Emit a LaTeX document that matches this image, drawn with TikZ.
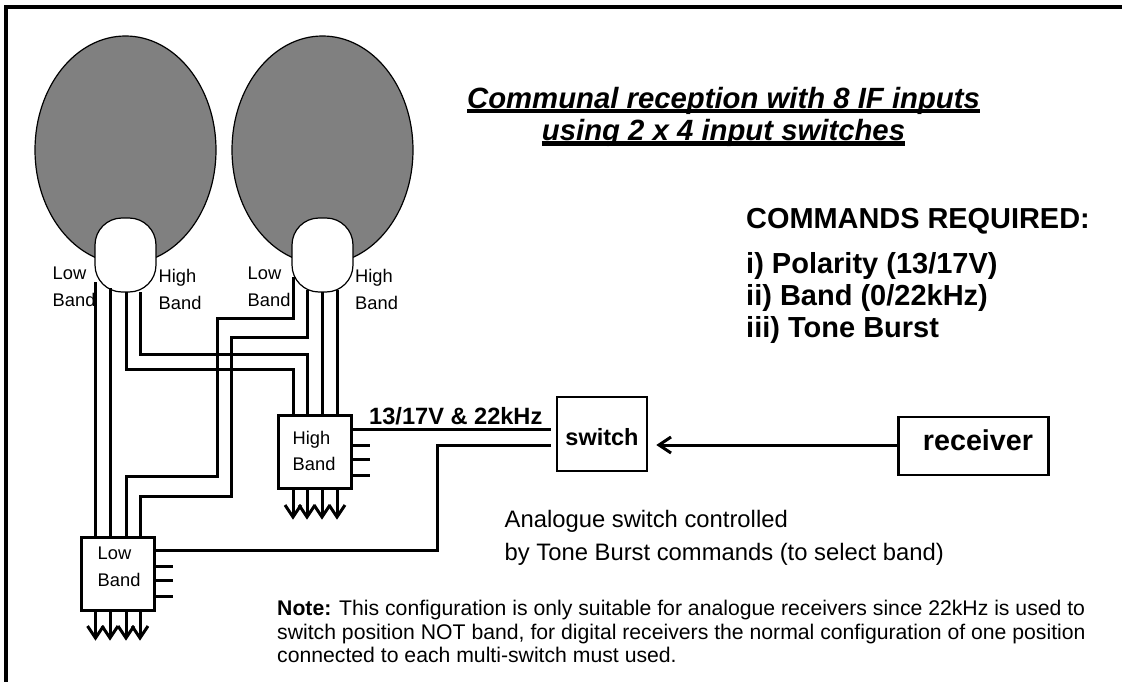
\documentclass[tikz,border=0pt]{standalone}
\usepackage{fontspec}
\setmainfont{Liberation Sans}
\usetikzlibrary{shapes.geometric}
\newsavebox{\titlebox}
\newcommand{\titleline}[1]{\sbox{\titlebox}{#1}\rlap{\rule[-4.6pt]{\wd\titlebox}{4.2pt}}\usebox{\titlebox}}
\definecolor{grigio}{RGB}{128,128,128}
\tikzstyle{wiring}=[
    wire/.style={black,line width=3pt},
    frame line/.style={black,line width=3.2pt},
]
\tikzstyle{aerial}=[
    dish/.style={ellipse,draw,fill=grigio,line width=1.2pt,inner sep=0pt,minimum width=181pt,minimum height=228pt},
    feed/.style={rectangle,draw,fill=white,line width=1.2pt,inner sep=0pt,rounded corners=27pt,minimum width=61pt,minimum height=74pt},
]
\tikzstyle{boxes}=[
    multi box/.style={rectangle,draw,line width=3pt,inner sep=0pt,minimum width=73pt,minimum height=73pt},
    big box/.style={rectangle,draw,line width=2.6pt,inner sep=0pt,align=center,font={\bfseries}},
    band label/.style={anchor=north west,inner sep=0pt,align=left,font={\fontsize{18.3}{26.5}\selectfont}},
    free text/.style={anchor=base west,inner sep=0pt,align=left},
]

\begin{document}
\begin{tikzpicture}
[
    wiring,
    aerial,
    boxes,
    x=1pt,
    y=-1pt
]

    \useasboundingbox (0,0) rectangle (1122,682);

    \coordinate (frametop) at (1122,7);
    \coordinate (framecorner) at (6,7);
    \coordinate (framefoot) at (6,682);
    \draw[frame line] (frametop) -- (framecorner) -- (framefoot);

    \node[dish] (dishA) at (125.5,150) {};
    \node[dish] (dishB) at (322.5,150) {};
    \node[feed] (feedA) at (125.5,255) {};
    \node[feed] (feedB) at (322.5,255) {};

    \node[multi box] (lowbox) at (118.3,573.7) {};
    \node[multi box] (highbox) at (315.3,452) {};
    \node[big box,minimum width=90pt,minimum height=74pt,font={\bfseries\fontsize{23.5}{26}\selectfont},text height=22pt,text depth=0pt] (switchbox) at (602,434) {switch};
    \node[big box,minimum width=150pt,minimum height=58pt,font={\bfseries\fontsize{28.7}{32}\selectfont},text height=21pt,text depth=13pt] (receiver) at (973.5,446) {\hspace*{9pt}receiver};

    \foreach \n/\x in {1/95.5,2/110,3/126,4/140}{
        \coordinate (lowin\n) at (\x,536);
        \coordinate (lowout\n) at (\x,611);
        \coordinate (lowend\n) at (\x,638);
        \draw[wire] (lowout\n) -- (lowend\n);
        \draw[wire] (lowend\n) ++(-8,-12) -- (lowend\n) -- ++(8,-12);
    }
    \foreach \n/\x in {1/293,2/307,3/322,4/337}{
        \coordinate (highin\n) at (\x,414);
        \coordinate (highout\n) at (\x,490);
        \coordinate (highend\n) at (\x,517);
        \draw[wire] (highout\n) -- (highend\n);
        \draw[wire] (highend\n) ++(-8,-12) -- (highend\n) -- ++(8,-12);
    }
    \foreach \n/\y in {2/566,3/580,4/596}{
        \coordinate (lowport\n) at (155,\y);
        \coordinate (lowstub\n) at (173,\y);
        \draw[wire] (lowport\n) -- (lowstub\n);
    }
    \foreach \n/\y in {2/445,3/459,4/475}{
        \coordinate (highport\n) at (352,\y);
        \coordinate (highstub\n) at (370,\y);
        \draw[wire] (highport\n) -- (highstub\n);
    }

    \coordinate (feedA1) at (95.5,282);
    \coordinate (feedA2) at (110,288);
    \coordinate (feedA3) at (126,292);
    \coordinate (feedA4) at (140,292);
    \coordinate (feedB1) at (293,277);
    \coordinate (feedB2) at (307,290);
    \coordinate (feedB3) at (322,292);
    \coordinate (feedB4) at (337,290);

    \draw[wire] (feedA1) -- (lowin1);
    \draw[wire] (feedA2) -- (lowin2);
    \draw[wire] (feedA3) |- (293,369) -- (highin1);
    \draw[wire] (feedA4) |- (307,354) -- (highin2);
    \draw[wire] (feedB1) |- (217,318) |- (126,476) -- (lowin3);
    \draw[wire] (feedB2) |- (231,337) |- (140,496) -- (lowin4);
    \draw[wire] (feedB3) -- (highin3);
    \draw[wire] (feedB4) -- (highin4);

    \coordinate (switchin1) at (551,429);
    \coordinate (switchin2) at (551,445);
    \coordinate (switchtip) at (659,445);
    \draw[wire] (highbox.east |- switchin1) -- (switchin1);
    \draw[wire] (lowport2 |- 0,550) -| (437.5,445) -- (switchin2);
    \draw[wire] (receiver.west |- switchtip) -- (switchtip);
    \draw[wire] (switchtip) ++(12,-8) -- (switchtip) -- ++(12,8);

    \node[band label] (lowlabelA) at (52.5,267) {Low\\Band};
    \node[band label] (highlabelA) at (158.5,269.5) {High\\Band};
    \node[band label] (lowlabelB) at (247.5,267) {Low\\Band};
    \node[band label] (highlabelB) at (355,269.5) {High\\Band};
    \node[band label] (lowboxlabel) at (97.5,547) {Low\\Band};
    \node[band label] (highboxlabel) at (292.5,431) {High\\Band};

    \node[anchor=north,inner sep=0pt,align=center,font={\bfseries\itshape\fontsize{29.3}{32.5}\selectfont}] (title) at (723.5,87) {\titleline{Communal reception with 8 IF inputs}\\\titleline{using 2 x 4 input switches}};

    \node[free text,font={\bfseries\fontsize{28.9}{32}\selectfont}] (commands) at (746,228) {COMMANDS REQUIRED:};
    \node[free text,font={\bfseries\fontsize{29}{32}\selectfont}] (polarity) at (746,273) {i) Polarity (13/17V)};
    \node[free text,font={\bfseries\fontsize{29}{32}\selectfont}] (band) at (746,305) {ii) Band (0/22kHz)};
    \node[free text,font={\bfseries\fontsize{29}{32}\selectfont}] (toneburst) at (746,337) {iii) Tone Burst};

    \node[free text,font={\bfseries\fontsize{23.6}{26}\selectfont}] (supply) at (369,424) {13/17V \& 22kHz};

    \node[free text,font={\fontsize{23.8}{33}\selectfont}] (analogueA) at (504.5,527) {Analogue switch controlled};
    \node[free text,font={\fontsize{23.8}{33}\selectfont}] (analogueB) at (504.5,560) {by Tone Burst commands (to select band)};

    \node[free text,font={\fontsize{21.2}{23.5}\selectfont}] (noteA) at (277,615) {\textbf{Note:} This configuration is only suitable for analogue receivers since 22kHz is used to};
    \node[free text,font={\fontsize{21.2}{23.5}\selectfont}] (noteB) at (277,639) {switch position NOT band, for digital receivers the normal configuration of one position};
    \node[free text,font={\fontsize{21.2}{23.5}\selectfont}] (noteC) at (277,662) {connected to each multi-switch must used.};

\end{tikzpicture}
\end{document}
